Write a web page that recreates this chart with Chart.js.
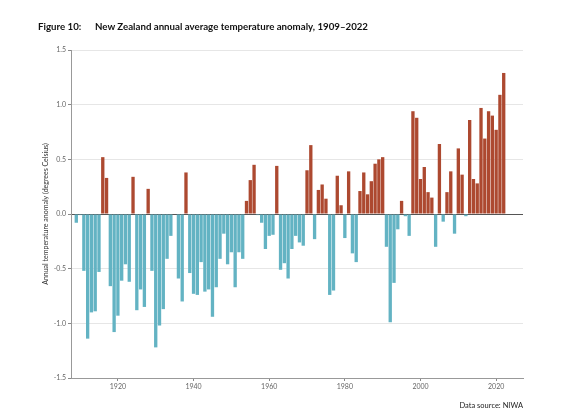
<!DOCTYPE html>
<html lang="en">
<head>
    <meta charset="UTF-8">
    <title>New Zealand annual average temperature anomaly, 1909–2022</title>
    <style>
        body {
            margin: 0;
            padding: 0;
            background: #fff;
        }

        .wrap {
            position: relative;
            width: 580px;
            height: 413px;
        }

        #chart {
            position: absolute;
            left: 0;
            top: 0;
        }

        .fig-num, .fig-title {
            position: absolute;
            top: 20px;
            font-family: Lato, sans-serif;
            font-weight: bold;
            font-size: 9.7px;
            color: #111;
            white-space: nowrap;
        }

        .fig-num { left: 38px; }
        .fig-title { left: 95px; }

        .source {
            position: absolute;
            right: 57px;
            top: 401px;
            font-family: Lato, sans-serif;
            font-size: 7.5px;
            color: #222;
        }
    </style>
    <script src="https://cdn.jsdelivr.net/npm/chart.js"></script>
</head>
<body>
    <div class="wrap">
        <canvas id="chart" width="580" height="413"></canvas>
        <div class="fig-num">Figure 10:</div>
        <div class="fig-title">New Zealand annual average temperature anomaly, 1909–2022</div>
        <div class="source">Data source: NIWA</div>
    </div>
    <script>
        // anomaly in degrees Celsius, one value per year from 1909
        const startYear = 1909;
        const anomalies = [
            -0.08, -0.01, -0.52, -1.14, -0.90, -0.89, -0.53, 0.52, 0.33, -0.66, -1.08,   // 1909-1919
            -0.93, -0.61, -0.46, -0.62, 0.34, -0.88, -0.69, -0.85, 0.23, -0.52,          // 1920s
            -1.22, -1.02, -0.87, -0.41, -0.20, 0.00, -0.59, -0.80, 0.38, -0.54,          // 1930s
            -0.73, -0.74, -0.44, -0.71, -0.69, -0.94, -0.67, -0.41, -0.18, -0.46,        // 1940s
            -0.35, -0.67, -0.35, -0.41, 0.12, 0.31, 0.45, -0.01, -0.08, -0.32,           // 1950s
            -0.20, -0.19, 0.44, -0.51, -0.45, -0.59, -0.32, -0.20, -0.26, -0.29,         // 1960s
            0.40, 0.63, -0.23, 0.22, 0.27, 0.14, -0.74, -0.70, 0.35, 0.08,               // 1970s
            -0.22, 0.39, -0.36, -0.44, 0.21, 0.38, 0.18, 0.30, 0.46, 0.50,               // 1980s
            0.52, -0.30, -0.99, -0.63, -0.14, 0.12, -0.02, -0.20, 0.94, 0.88,            // 1990s
            0.32, 0.43, 0.20, 0.15, -0.30, 0.64, -0.07, 0.20, 0.39, -0.18,               // 2000s
            0.60, 0.36, -0.02, 0.86, 0.32, 0.28, 0.97, 0.69, 0.94, 0.90,                 // 2010s
            0.77, 1.09, 1.29                                                             // 2020-2022
        ];
        const years = anomalies.map((_, i) => startYear + i);
        const xTickYears = [1920, 1940, 1960, 1980, 2000, 2020];

        const warmColor = '#ad4930';
        const coolColor = '#63b3c3';

        const ctx = document.getElementById('chart').getContext('2d');
        new Chart(ctx, {
            type: 'bar',
            data: {
                datasets: [{
                    data: years.map((y, i) => ({ x: y, y: anomalies[i] })),
                    backgroundColor: c => (c.raw && c.raw.y < 0) ? coolColor : warmColor,
                    borderWidth: 0,
                    barPercentage: 1,
                    categoryPercentage: 0.88
                }]
            },
            options: {
                responsive: false,
                animation: false,
                layout: {
                    padding: { left: 40, right: 57, top: 50, bottom: 0 }
                },
                plugins: {
                    legend: { display: false },
                    tooltip: { enabled: false }
                },
                scales: {
                    x: {
                        type: 'linear',
                        offset: false,
                        min: 1907.6,
                        max: 2027.1,
                        afterBuildTicks: scale => {
                            scale.ticks = xTickYears.map(v => ({ value: v }));
                        },
                        afterFit: scale => { scale.height = 35; },
                        ticks: {
                            callback: v => String(v),
                            font: { family: 'Lato', size: 7 },
                            color: '#666',
                            padding: 2,
                            maxRotation: 0
                        },
                        grid: {
                            offset: false,
                            drawOnChartArea: false,
                            tickLength: 3,
                            tickColor: '#888'
                        },
                        border: { color: '#999' }
                    },
                    y: {
                        min: -1.5,
                        max: 1.5,
                        afterFit: scale => { scale.width = 31; },
                        ticks: {
                            stepSize: 0.5,
                            callback: v => v.toFixed(1),
                            font: { family: 'Lato', size: 7 },
                            color: '#666',
                            padding: 2
                        },
                        grid: {
                            color: c => (c.tick && c.tick.value === 0) ? '#555' : '#e6e6e6',
                            tickLength: 3,
                            tickColor: '#888'
                        },
                        border: { color: '#999' },
                        title: {
                            display: true,
                            text: 'Annual temperature anomaly (degrees Celsius)',
                            font: { family: 'Lato', size: 7 },
                            color: '#333',
                            padding: { top: 2, bottom: 0 }
                        }
                    }
                }
            }
        });
    </script>
</body>
</html>
